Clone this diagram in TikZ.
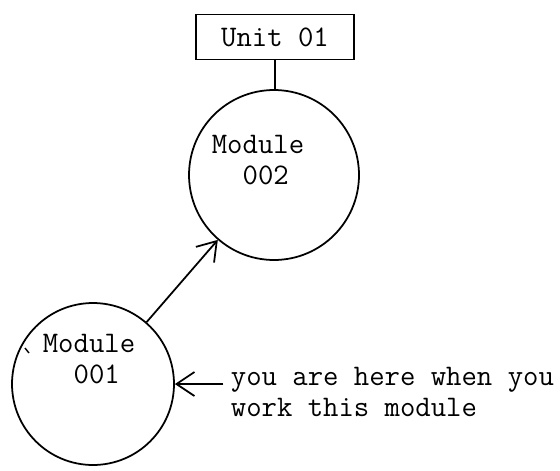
\documentclass[tikz,border=0pt]{standalone}
\usepackage{tikz}
\usetikzlibrary{arrows.meta}

\tikzset{
	modcircle/.style={draw, circle, line width=1pt, inner sep=0pt},
	typed/.style={font=\fontsize{17}{17.6}\selectfont\ttfamily, inner sep=2pt},
	unitbox/.style={draw, line width=1pt, minimum width=3.16cm, minimum height=0.9cm, inner sep=0pt},
	arrowline/.style={line width=1pt, -{Straight Barb[length=3.6mm, width=4.8mm, line width=1pt]}}
}

\begin{document}
\begin{tikzpicture}[x=0.02cm, y=-0.02cm]
			%%%%% START %%%%%
			\useasboundingbox (0, 0) rectangle (560, 470);
			
			\node[unitbox, typed] (unit) at (275, 37) {Unit 01};
			
			\node[modcircle, minimum size=3.4cm] (m2) at (274, 175) {};
			\node[typed, align=left] (m2text) at (258, 160) {Module\\\ \ 002};
			
			\node[modcircle, minimum size=3.24cm] (m1) at (93, 384) {};
			\node[typed, align=left] (m1text) at (89, 359) {Module\\\ \ 001};
			
			\draw[line width=1pt] (unit.south) -- (unit.south |- m2.north);
			\draw[arrowline] (m1) -- (m2);
			
			\node[typed, align=left, anchor=west] (note) at (227, 392) {you are here when you\\work this module};
			\draw[arrowline] ([xshift=-2pt]note.west |- m1.east) -- (m1.east);
			
			% small pen mark by the lower circle
			\coordinate (tick) at (25, 348);
			\draw[line width=0.8pt] (tick) -- ++(4, 5);
			
			%%%%% END %%%%%
\end{tikzpicture}
\end{document}
